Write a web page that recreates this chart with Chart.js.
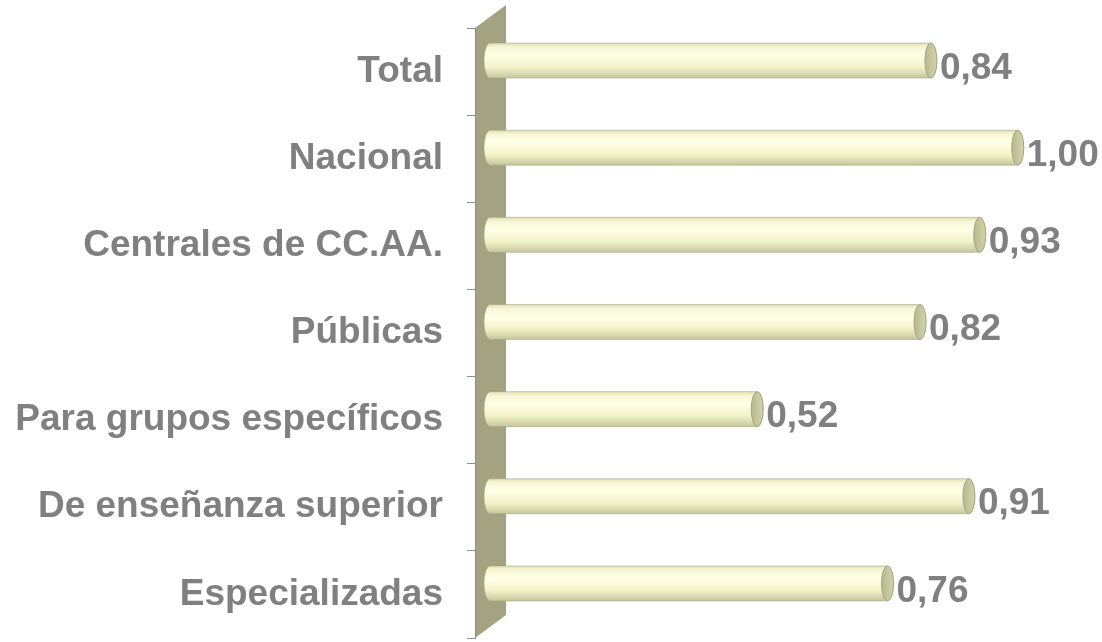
<!DOCTYPE html>
<html>
<head>
<meta charset="utf-8">
<script src="https://cdn.jsdelivr.net/npm/chart.js@4/dist/chart.umd.min.js"></script>
<style>
  html, body { margin: 0; padding: 0; background: #fff; }
  #wrap { width: 1102px; height: 642px; }
</style>
</head>
<body>
<div id="wrap"><canvas id="chart"></canvas></div>
<script>
const categories = ["Total", "Nacional", "Centrales de CC.AA.", "Públicas",
    "Para grupos específicos", "De enseñanza superior", "Especializadas"];
const values = [0.84, 1.00, 0.93, 0.82, 0.52, 0.91, 0.76];

const GRAY = "#808080";
const FONT = "'Liberation Sans', Arial, sans-serif";

// ── 3D side wall behind the bars ──
const wallPlugin = {
    id: "wall",
    beforeDraw(chart) {
        const { ctx, chartArea } = chart;
        const L = chartArea.left, top = chartArea.top, bottom = chartArea.bottom;
        const dx = 31, dy = 23;
        ctx.save();
        ctx.beginPath();
        ctx.moveTo(L, top);
        ctx.lineTo(L + dx, top - dy);
        ctx.lineTo(L + dx, bottom - dy);
        ctx.lineTo(L, bottom);
        ctx.closePath();
        ctx.fillStyle = "#a4a381";
        ctx.fill();
        ctx.restore();
    }
};

function drawCylinder(ctx, x0, x1, yc, h) {
    const r = h / 2, rx = 6;
    const grad = ctx.createLinearGradient(0, yc - r, 0, yc + r);
    grad.addColorStop(0, "#dedeb4");
    grad.addColorStop(0.12, "#f7f7d6");
    grad.addColorStop(0.35, "#ffffe6");
    grad.addColorStop(0.7, "#f2f2c8");
    grad.addColorStop(1, "#c6c69c");

    ctx.save();
    // body
    ctx.beginPath();
    ctx.moveTo(x0, yc - r);
    ctx.lineTo(x1, yc - r);
    ctx.ellipse(x1, yc, rx, r, 0, -Math.PI / 2, Math.PI / 2);
    ctx.lineTo(x0, yc + r);
    ctx.ellipse(x0, yc, rx, r, 0, Math.PI / 2, Math.PI * 1.5);
    ctx.closePath();
    ctx.fillStyle = grad;
    ctx.fill();
    ctx.strokeStyle = "rgba(160,160,130,0.5)";
    ctx.lineWidth = 1;
    ctx.stroke();

    // end cap
    const cap = ctx.createLinearGradient(x1 - rx, 0, x1 + rx, 0);
    cap.addColorStop(0, "#b8b890");
    cap.addColorStop(1, "#d4d4aa");
    ctx.beginPath();
    ctx.ellipse(x1, yc, rx, r, 0, 0, Math.PI * 2);
    ctx.fillStyle = cap;
    ctx.fill();
    ctx.strokeStyle = "#a6a682";
    ctx.stroke();
    ctx.restore();
}

// ── cylinders + value labels ──
const cylinderPlugin = {
    id: "cylinders",
    afterDatasetsDraw(chart) {
        const { ctx } = chart;
        const meta = chart.getDatasetMeta(0);
        meta.data.forEach((bar, i) => {
            const yc = bar.y - 11;
            drawCylinder(ctx, bar.base + 15, bar.x, yc, bar.height);
            ctx.save();
            ctx.font = "bold 37px " + FONT;
            ctx.fillStyle = GRAY;
            ctx.textBaseline = "middle";
            ctx.textAlign = "left";
            ctx.fillText(values[i].toFixed(2).replace(".", ","), bar.x + 9, bar.y - 3);
            ctx.restore();
        });
    }
};

new Chart(document.getElementById("chart"), {
    type: "bar",
    data: {
        labels: categories,
        datasets: [{
            data: values,
            backgroundColor: "rgba(0,0,0,0)",
            borderWidth: 0,
            barThickness: 35
        }]
    },
    options: {
        indexAxis: "y",
        responsive: true,
        maintainAspectRatio: false,
        animation: false,
        layout: { padding: { top: 28, bottom: 4, left: 0, right: 30 } },
        scales: {
            x: {
                display: false,
                min: 0,
                max: 1.1
            },
            y: {
                afterFit: (scale) => {
                    scale.width = 475;
                    scale.paddingTop = 0;
                    scale.paddingBottom = 0;
                },
                grid: {
                    drawOnChartArea: false,
                    drawTicks: true,
                    tickLength: 8,
                    color: "#8c8c8c",
                    lineWidth: 1
                },
                border: { display: true, color: "#8c8c8c", width: 1 },
                ticks: {
                    color: GRAY,
                    padding: 24,
                    font: { family: FONT, size: 37, weight: "bold" }
                }
            }
        },
        plugins: {
            legend: { display: false },
            tooltip: { enabled: false }
        }
    },
    plugins: [wallPlugin, cylinderPlugin]
});
</script>
</body>
</html>
